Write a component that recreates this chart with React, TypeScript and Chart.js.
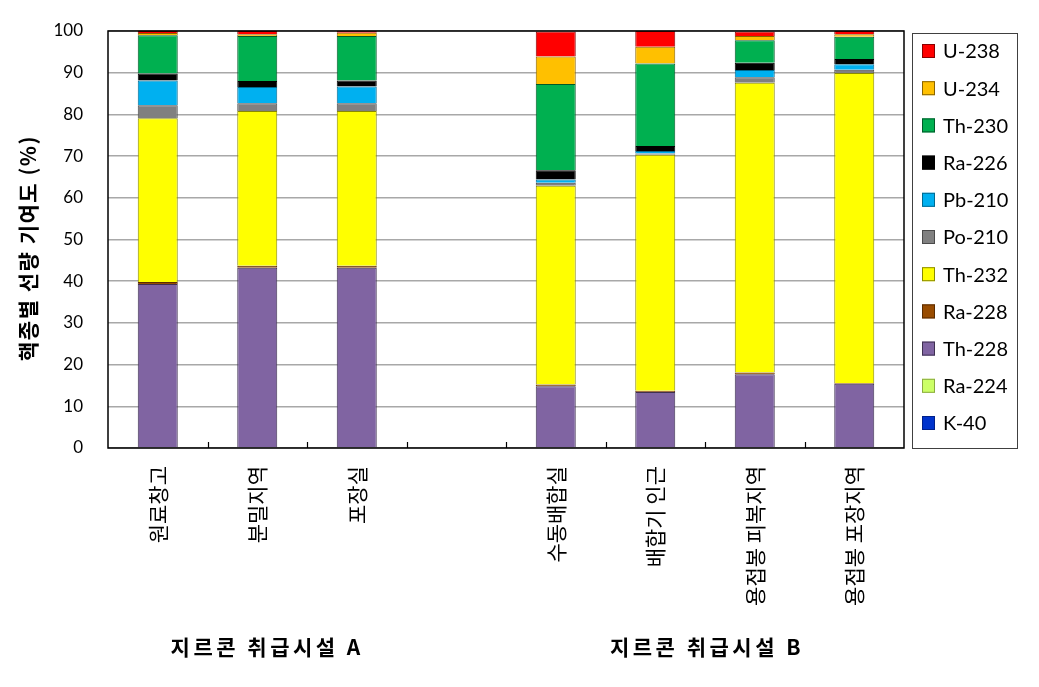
import React, { useEffect, useRef } from 'react';
import { Chart, registerables } from 'chart.js';

Chart.register(...registerables);

// ---------- data ----------
const categories = ['원료창고', '분밀지역', '포장실', '', '수동배합실', '배합기 인근', '용접봉 피복지역', '용접봉 포장지역'];
const seriesNames = ['K-40', 'Ra-224', 'Th-228', 'Ra-228', 'Th-232', 'Po-210', 'Pb-210', 'Ra-226', 'Th-230', 'U-234', 'U-238'];

const k40 = [0, 0, 0, null, 0, 0, 0, 0];
const ra224 = [0, 0, 0, null, 0, 0, 0, 0];
const th228 = [39.3, 43.2, 43.2, null, 14.8, 13.4, 17.7, 15.4];
const ra228 = [0.5, 0.5, 0.5, null, 0.4, 0.3, 0.4, 0.2];
const th232 = [39.3, 37.1, 37.1, null, 47.7, 56.6, 69.5, 74.3];
const po210 = [3.1, 1.9, 1.9, null, 0.7, 0.3, 1.3, 0.8];
const pb210 = [5.9, 3.9, 4.0, null, 0.8, 0.6, 1.75, 1.3];
const ra226 = [1.7, 1.4, 1.4, null, 2.2, 1.2, 1.75, 1.3];
const th230 = [9.2, 10.8, 10.7, null, 20.7, 19.8, 5.4, 5.3];
const u234 = [0.5, 0.4, 0.8, null, 6.6, 4.0, 1.0, 0.6];
const u238 = [0.5, 0.8, 0.4, null, 6.0, 3.8, 1.1, 0.8];

const seriesValues = [k40, ra224, th228, ra228, th232, po210, pb210, ra226, th230, u234, u238];

const yTickValues = [0, 10, 20, 30, 40, 50, 60, 70, 80, 90, 100];
const yAxisTitle = '핵종별 선량 기여도 (%)';
const groupLabels = ['지르콘 취급시설 A', '지르콘 취급시설 B'];
const groupCenters = [1.08, 5.5];

// ---------- styles ----------
const fillColors = ['#0033CC', '#CCFF66', '#8064A2', '#994C00', '#FFFF00', '#808080', '#00B0F0', '#000000', '#00B050', '#FFC000', '#FF0000'];
const edgeColors = ['#00208A', '#8AAA40', '#3E3050', '#5A2C00', '#8A8A00', '#4A4A4A', '#006A90', '#000000', '#005A28', '#8A6400', '#8A0000'];

const W = 1039;
const H = 687;

const overlayPlugin = {
  id: 'overlay',
  afterDraw(chart: any) {
    const { ctx, chartArea } = chart;
    const xs = chart.scales.x;
    const { left, right, top, bottom } = chartArea;
    ctx.save();

    // plot border
    ctx.strokeStyle = '#000';
    ctx.lineWidth = 1.5;
    ctx.strokeRect(left, top, right - left, bottom - top);

    // inner x tick marks at category boundaries
    ctx.lineWidth = 1.2;
    for (let i = 0; i < categories.length - 1; i++) {
      const bx = (xs.getPixelForValue(i) + xs.getPixelForValue(i + 1)) / 2;
      ctx.beginPath();
      ctx.moveTo(Math.round(bx) + 0.5, bottom);
      ctx.lineTo(Math.round(bx) + 0.5, bottom - 6);
      ctx.stroke();
    }

    // y axis title
    ctx.fillStyle = '#000';
    ctx.font = 'bold 21px "Noto Sans CJK KR"';
    (ctx as any).letterSpacing = '1.5px';
    ctx.textAlign = 'center';
    ctx.textBaseline = 'middle';
    ctx.translate(28, 248);
    ctx.rotate(-Math.PI / 2);
    ctx.fillText(yAxisTitle, 0, 0);
    ctx.restore();
    ctx.save();

    // group labels
    ctx.fillStyle = '#000';
    ctx.font = 'bold 21px "Noto Sans CJK KR"';
    (ctx as any).letterSpacing = '3.5px';
    ctx.textAlign = 'center';
    ctx.textBaseline = 'middle';
    groupLabels.forEach((g, i) => {
      ctx.fillText(g, xs.getPixelForValue(groupCenters[i]) + 2, 647);
    });
    (ctx as any).letterSpacing = '0px';

    // legend box
    const lx = 912, ly = 33, lw = 105, lh = 415;
    ctx.strokeStyle = '#404040';
    ctx.lineWidth = 1;
    ctx.strokeRect(lx + 0.5, ly + 0.5, lw, lh);
    const ds = chart.data.datasets;
    ctx.font = '20px Lato';
    ctx.textAlign = 'left';
    ctx.textBaseline = 'middle';
    for (let i = 0; i < ds.length; i++) {
      const d = ds[ds.length - 1 - i];
      const cy = 51 + i * 37.2;
      ctx.fillStyle = d.backgroundColor;
      ctx.fillRect(922, cy - 7, 13, 14);
      ctx.strokeStyle = d.borderColor;
      ctx.lineWidth = 1;
      ctx.strokeRect(922.5, cy - 6.5, 12, 13);
      ctx.fillStyle = '#000';
      ctx.fillText(d.label, 943, cy + 1);
    }
    ctx.restore();
  },
};

export default function App() {
  const ref = useRef<HTMLCanvasElement>(null);

  useEffect(() => {
    if (!ref.current) return;
    const chart = new Chart(ref.current, {
      type: 'bar',
      data: {
        labels: categories,
        datasets: seriesNames.map((name, i) => ({
          label: name,
          data: seriesValues[i],
          backgroundColor: fillColors[i],
          borderColor: edgeColors[i],
          borderWidth: 1,
          categoryPercentage: 1,
          barPercentage: 0.402,
        })),
      },
      options: {
        responsive: false,
        animation: false,
        events: [],
        layout: { padding: { left: 0, right: 135, top: 31, bottom: 0 } },
        plugins: {
          legend: { display: false },
          tooltip: { enabled: false },
          title: { display: false },
        },
        scales: {
          x: {
            stacked: true,
            grid: { display: false, drawTicks: false },
            border: { display: false },
            ticks: {
              autoSkip: false,
              maxRotation: 90,
              minRotation: 90,
              padding: 18,
              color: '#000',
              font: { family: '"Noto Sans CJK KR"', size: 21 },
            },
            afterFit(scale: any) {
              scale.height = H - 448;
            },
          },
          y: {
            stacked: true,
            min: 0,
            max: 100,
            grid: {
              color: '#A8A8A8',
              lineWidth: 1.5,
              drawTicks: true,
              tickLength: 25,
              tickColor: 'rgba(0,0,0,0)',
            },
            border: { display: false },
            afterBuildTicks(scale: any) {
              scale.ticks = yTickValues.map((v) => ({ value: v }));
            },
            ticks: {
              padding: 0,
              color: '#000',
              font: { family: 'Lato', size: 17 },
            },
            afterFit(scale: any) {
              scale.width = 108;
            },
          },
        },
      },
      plugins: [overlayPlugin],
    });
    return () => chart.destroy();
  }, []);

  return (
    <div style={{ position: 'absolute', left: 0, top: 0, width: W, height: H, background: '#fff' }}>
      <canvas ref={ref} width={W} height={H} style={{ width: W, height: H, display: 'block' }} />
    </div>
  );
}
